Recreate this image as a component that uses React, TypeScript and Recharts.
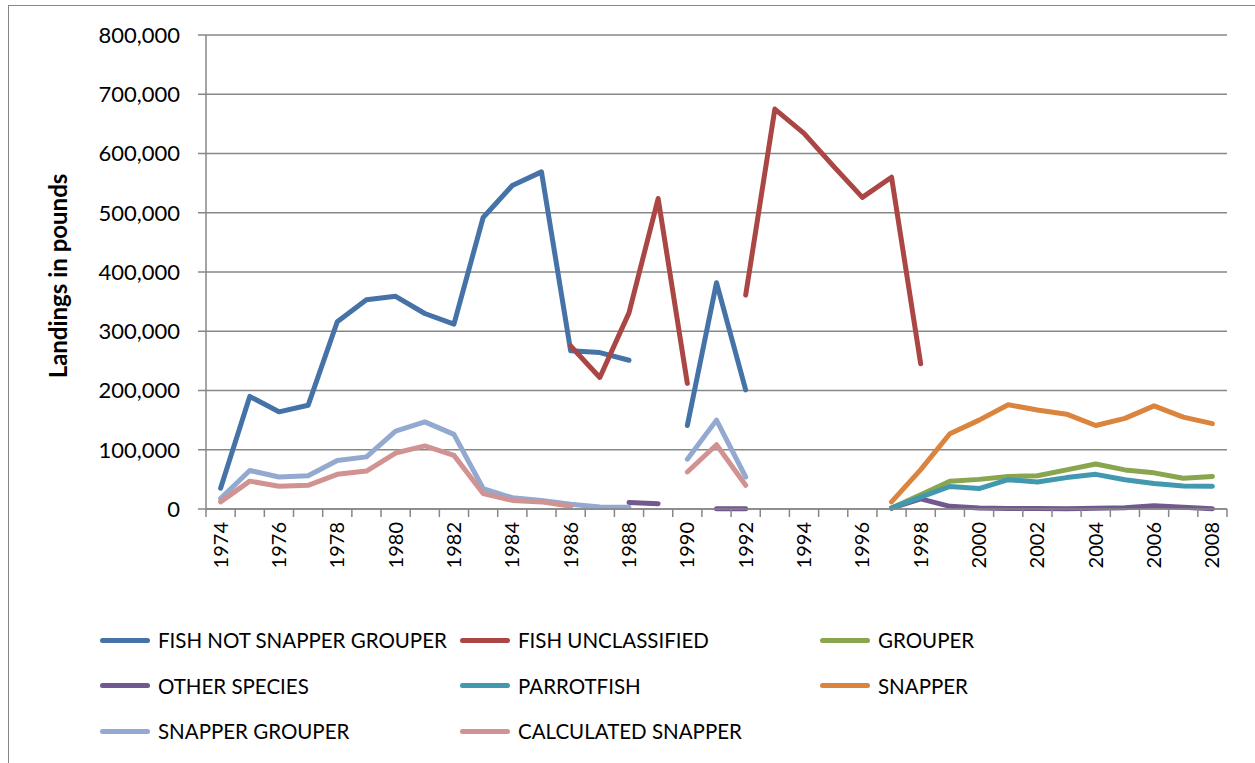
import {
  CartesianGrid,
  Legend,
  Line,
  LineChart,
  XAxis,
  YAxis,
} from 'recharts';

const YEARS = [
  1974, 1975, 1976, 1977, 1978, 1979, 1980, 1981, 1982, 1983, 1984, 1985,
  1986, 1987, 1988, 1989, 1990, 1991, 1992, 1993, 1994, 1995, 1996, 1997,
  1998, 1999, 2000, 2001, 2002, 2003, 2004, 2005, 2006, 2007, 2008,
];

const N = null;

const FISH_NOT_SNAPPER_GROUPER = [
  35000, 190000, 164000, 175000, 316000, 353000, 359000, 330000, 312000,
  492000, 546000, 569000, 267000, 264000, 251000, N, 141000, 382000, 201000,
  N, N, N, N, N, N, N, N, N, N, N, N, N, N, N, N,
];
const FISH_UNCLASSIFIED = [
  N, N, N, N, N, N, N, N, N, N, N, N, 275000, 222000, 331000, 524000, 212000,
  N, 361000, 675000, 634000, 579000, 526000, 560000, 245000,
  N, N, N, N, N, N, N, N, N, N,
];
const GROUPER = [
  N, N, N, N, N, N, N, N, N, N, N, N, N, N, N, N, N, N, N, N, N, N, N,
  1500, 24000, 47000, 50000, 55000, 56000, 66000, 76000, 66000, 61000, 52000,
  55000,
];
const OTHER_SPECIES = [
  N, N, N, N, N, N, N, N, N, N, N, N, N, N, 11000, 9000, N, 500, 500,
  N, N, N, N, 1500, 17000, 4500, 1700, 700, 700, 500, 1200, 2000, 5700, 3000,
  500,
];
const PARROTFISH = [
  N, N, N, N, N, N, N, N, N, N, N, N, N, N, N, N, N, N, N, N, N, N, N,
  1500, 20000, 38000, 34500, 49500, 45500, 53000, 58500, 49500, 43000, 39000,
  38500,
];
const SNAPPER = [
  N, N, N, N, N, N, N, N, N, N, N, N, N, N, N, N, N, N, N, N, N, N, N,
  12000, 66500, 127000, 150000, 176000, 167000, 160000, 141000, 153000,
  174000, 155000, 144000,
];
const SNAPPER_GROUPER = [
  17500, 65000, 54000, 56000, 82000, 88000, 131500, 147000, 126000, 34500,
  19000, 14500, 8000, 3500, 3000, N, 84000, 150000, 54000,
  N, N, N, N, N, N, N, N, N, N, N, N, N, N, N, N,
];
const CALCULATED_SNAPPER = [
  12000, 47000, 38500, 40000, 58500, 64000, 94500, 106500, 90500, 26000,
  14500, 12000, 4500, N, N, N, 62500, 108500, 40000,
  N, N, N, N, N, N, N, N, N, N, N, N, N, N, N, N,
];

const Y_TICKS = [0, 100000, 200000, 300000, 400000, 500000, 600000, 700000, 800000];

const SERIES = [
  { key: 'fnsg', name: 'FISH NOT SNAPPER GROUPER', color: '#4572A7', values: FISH_NOT_SNAPPER_GROUPER },
  { key: 'fu', name: 'FISH UNCLASSIFIED', color: '#AA4643', values: FISH_UNCLASSIFIED },
  { key: 'grouper', name: 'GROUPER', color: '#89A54E', values: GROUPER },
  { key: 'other', name: 'OTHER SPECIES', color: '#71588F', values: OTHER_SPECIES },
  { key: 'parrot', name: 'PARROTFISH', color: '#4198AF', values: PARROTFISH },
  { key: 'snapper', name: 'SNAPPER', color: '#DB843D', values: SNAPPER },
  { key: 'sg', name: 'SNAPPER GROUPER', color: '#93A9CF', values: SNAPPER_GROUPER },
  { key: 'calc', name: 'CALCULATED SNAPPER', color: '#D19392', values: CALCULATED_SNAPPER },
];

const data = YEARS.map((year, i) => {
  const row: Record<string, number | null> = { year };
  SERIES.forEach((s) => {
    row[s.key] = s.values[i];
  });
  return row;
});

const FONT = 'Lato, "Liberation Sans", sans-serif';
const GRID = '#878787';
const W = 1255;
const H = 763;
const PLOT_LEFT = 206;
const PLOT_RIGHT = 1227;
const BAND = (PLOT_RIGHT - PLOT_LEFT) / YEARS.length;

function YearTick(props: any) {
  const { x, y, payload, index } = props;
  const left = x - BAND / 2;
  const showLabel = payload.value % 2 === 0;
  return (
    <g>
      <line x1={left} y1={y} x2={left} y2={y + 8} stroke={GRID} strokeWidth={1.5} />
      {index === YEARS.length - 1 && (
        <line x1={x + BAND / 2} y1={y} x2={x + BAND / 2} y2={y + 8} stroke={GRID} strokeWidth={1.5} />
      )}
      {showLabel && (
        <text
          x={x + 7}
          y={y + 13}
          transform={`rotate(-90, ${x + 7}, ${y + 13})`}
          textAnchor="end"
          fontFamily={FONT}
          fontSize={20}
          fill="#000"
        >
          {payload.value}
        </text>
      )}
    </g>
  );
}

function LegendBox() {
  const cols = [100, 460, 820];
  return (
    <div style={{ position: 'relative', width: W, height: 130 }}>
      {SERIES.map((s, i) => (
        <div
          key={s.key}
          style={{
            position: 'absolute',
            left: cols[i % 3],
            top: Math.floor(i / 3) * 45.5,
            display: 'flex',
            alignItems: 'center',
            height: 30,
            fontFamily: FONT,
            fontSize: 20.5,
            color: '#000',
            whiteSpace: 'nowrap',
          }}
        >
          <span
            style={{
              display: 'inline-block',
              width: 50,
              height: 5,
              borderRadius: 3,
              background: s.color,
              marginRight: 8,
            }}
          />
          {s.name}
        </div>
      ))}
    </div>
  );
}

export default function App() {
  return (
    <div style={{ position: 'absolute', left: 0, top: 0, width: W, height: H, background: '#fff' }}>
      <div
        style={{
          position: 'absolute',
          left: 8,
          top: 5,
          width: W - 8,
          height: H - 5,
          borderLeft: `1.5px solid ${GRID}`,
          borderTop: `1.5px solid ${GRID}`,
          boxSizing: 'border-box',
        }}
      />
      <LineChart
        width={W}
        height={H}
        data={data}
        margin={{ top: 35, right: W - PLOT_RIGHT, bottom: 194, left: 0 }}
        style={{ position: 'absolute', left: 0, top: 0 }}
      >
        <CartesianGrid vertical={false} stroke={GRID} strokeWidth={1.5} />
        <XAxis
          dataKey="year"
          scale="band"
          interval={0}
          height={60}
          tickSize={0}
          tickMargin={0}
          tickLine={false}
          axisLine={{ stroke: GRID, strokeWidth: 1.5 }}
          tick={<YearTick />}
        />
        <YAxis
          width={PLOT_LEFT}
          domain={[0, 800000]}
          ticks={Y_TICKS}
          interval={0}
          tickSize={8}
          tickMargin={18}
          tickLine={{ stroke: GRID, strokeWidth: 1.5 }}
          axisLine={{ stroke: GRID, strokeWidth: 1.5 }}
          tick={{ fontFamily: FONT, fontSize: 22, fill: '#000' }}
          tickFormatter={(v: number) => v.toLocaleString('en-US')}
          label={() => (
            <text
              x={67}
              y={276}
              transform="rotate(-90, 67, 276)"
              textAnchor="middle"
              fontFamily={FONT}
              fontWeight="bold"
              fontSize={24}
              fill="#000"
            >
              Landings in pounds
            </text>
          )}
        />
        <Legend
          layout="horizontal"
          verticalAlign="middle"
          align="center"
          wrapperStyle={{ top: 625, left: 0, width: W }}
          content={() => <LegendBox />}
        />
        {SERIES.map((s) => (
          <Line
            key={s.key}
            type="linear"
            dataKey={s.key}
            name={s.name}
            stroke={s.color}
            strokeWidth={5}
            strokeLinecap="round"
            strokeLinejoin="round"
            dot={false}
            activeDot={false}
            isAnimationActive={false}
          />
        ))}
      </LineChart>
    </div>
  );
}
